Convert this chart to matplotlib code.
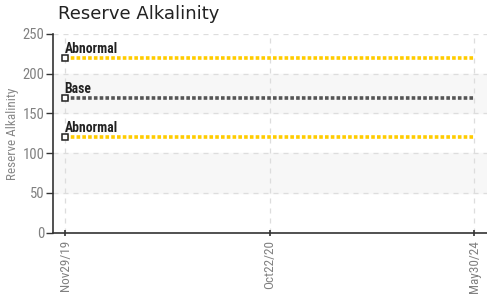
import matplotlib.pyplot as plt

# Chart data
dates = ['Nov29/19', 'Oct22/20', 'May30/24']
abnormal_high = [220, 220, 220]
base = [170, 170, 170]
abnormal_low = [120, 120, 120]
y_ticks = [0, 50, 100, 150, 200, 250]

narrow = 'Roboto Condensed'

fig = plt.figure(figsize=(4.87, 3.02), dpi=100)
ax = fig.add_axes([0.109, 0.2295, 0.891, 0.658])

x = list(range(len(dates)))

# alternating bands
for lo in range(50, 250, 100):
    ax.axhspan(lo, lo + 50, color='#f7f7f7', zorder=0)

ax.plot(x, abnormal_high, color='#ffcc00', lw=2.6, ls=(0, (1, 0.6)), zorder=3)
ax.plot(x, base, color='#555555', lw=2.6, ls=(0, (1, 0.6)), zorder=3)
ax.plot(x, abnormal_low, color='#ffcc00', lw=2.6, ls=(0, (1, 0.6)), zorder=3)

for series, label in [(abnormal_high, 'Abnormal'), (base, 'Base'),
                      (abnormal_low, 'Abnormal')]:
    ax.plot(x[0], series[0], marker='s', ms=4.5, mfc='white', mec='#222222',
            mew=1.1, zorder=4)
    ax.annotate(label, (x[0], series[0]), xytext=(-0.5, 3.5),
                textcoords='offset points', fontsize=9.8, fontweight='bold',
                family=narrow, color='#222222', zorder=5)

ax.set_xlim(-0.059, 2.063)
ax.set_ylim(0, 250)
ax.set_yticks(y_ticks)
ax.set_xticks(x)
ax.set_xticklabels(dates, rotation=90, family=narrow, fontsize=9.5,
                   color='#808080')
for lab in ax.get_yticklabels():
    lab.set_family(narrow)
    lab.set_fontsize(10.5)
    lab.set_color('#808080')

ax.grid(True, ls=(0, (4, 4)), color='#dddddd', lw=0.9)
ax.set_axisbelow(True)
ax.tick_params(axis='y', length=5, width=1, color='#333333', pad=1)
ax.tick_params(axis='x', length=4, width=1.2, color='#333333',
               direction='inout', pad=3)

for s in ['top', 'right']:
    ax.spines[s].set_visible(False)
for s in ['left', 'bottom']:
    ax.spines[s].set_color('#333333')
    ax.spines[s].set_linewidth(1.2)

ax.set_ylabel('Reserve Alkalinity', family=narrow, fontsize=9.5,
              color='#888888', labelpad=3)
fig.text(0.119, 0.955, 'Reserve Alkalinity', fontsize=13, color='#222222',
         va='center', ha='left')

fig.savefig('out.png', dpi=100)
